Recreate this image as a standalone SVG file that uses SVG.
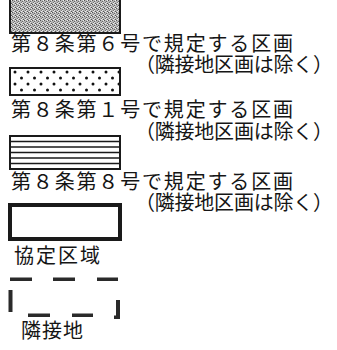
<svg xmlns="http://www.w3.org/2000/svg" width="337" height="350" viewBox="0 0 337 350">
<style>
  .t { font-family: "Noto Sans CJK JP", "Noto Sans", sans-serif; font-size: 20px; fill: #151515; }
  .frame { stroke: #1a1a1a; stroke-width: 2; }
  .dash { fill: #2a2a2a; }
</style>
<defs>
  <pattern id="stipple" width="4" height="4" patternUnits="userSpaceOnUse">
    <rect width="4" height="4" fill="#b4b4b4"/>
    <rect x="0" y="0" width="1" height="1" fill="#555"/>
    <rect x="2" y="1" width="1" height="1" fill="#666"/>
    <rect x="1" y="2" width="1" height="1" fill="#777"/>
    <rect x="3" y="3" width="1" height="1" fill="#555"/>
    <rect x="3" y="0" width="1" height="1" fill="#eee"/>
    <rect x="1" y="3" width="1" height="1" fill="#eee"/>
    <rect x="2" y="2" width="1" height="1" fill="#e4e4e4"/>
  </pattern>
  <pattern id="dots" x="10" y="69" width="13" height="12" patternUnits="userSpaceOnUse">
    <circle cx="5" cy="3" r="1.5" fill="#111"/>
    <circle cx="11.5" cy="9" r="1.5" fill="#111"/>
  </pattern>
</defs>

<g id="legend-sec8-no6">
  <rect class="frame" x="10" y="-3" width="110" height="36" fill="url(#stipple)"/>
  <text class="t" x="11" y="51" textLength="282" lengthAdjust="spacing">第８条第６号で規定する区画</text>
  <text class="t" x="135" y="72" textLength="198" lengthAdjust="spacing">（隣接地区画は除く）</text>
</g>

<g id="legend-sec8-no1">
  <rect class="frame" x="10" y="68" width="110" height="27" fill="url(#dots)"/>
  <text class="t" x="11" y="117" textLength="282" lengthAdjust="spacing">第８条第１号で規定する区画</text>
  <text class="t" x="135" y="139" textLength="198" lengthAdjust="spacing">（隣接地区画は除く）</text>
</g>

<g id="legend-sec8-no8">
  <rect class="frame" x="10" y="136" width="110" height="33" fill="#fff"/>
  <g stroke="#1a1a1a" stroke-width="1.4">
    <line x1="10" y1="141.5" x2="120" y2="141.5"/>
    <line x1="10" y1="147" x2="120" y2="147"/>
    <line x1="10" y1="152.5" x2="120" y2="152.5"/>
    <line x1="10" y1="158" x2="120" y2="158"/>
    <line x1="10" y1="163.5" x2="120" y2="163.5"/>
  </g>
  <text class="t" x="11" y="189" textLength="282" lengthAdjust="spacing">第８条第８号で規定する区画</text>
  <text class="t" x="135" y="210" textLength="198" lengthAdjust="spacing">（隣接地区画は除く）</text>
</g>

<g id="legend-agreement-area">
  <rect x="10" y="205" width="110" height="34" fill="none" stroke="#1a1a1a" stroke-width="4"/>
  <text class="t" x="14" y="263" textLength="86" lengthAdjust="spacing">協定区域</text>
</g>

<g id="legend-adjacent">
  <rect class="dash" x="10" y="277.5" width="22" height="3.5"/>
  <rect class="dash" x="53" y="277.5" width="22" height="3.5"/>
  <rect class="dash" x="97" y="277.5" width="21" height="3.5"/>
  <rect class="dash" x="8.5" y="290" width="4" height="22"/>
  <rect class="dash" x="116" y="300" width="4" height="19"/>
  <rect class="dash" x="114" y="315.5" width="5" height="3.5"/>
  <rect class="dash" x="28" y="313.5" width="22" height="3.5"/>
  <rect class="dash" x="72" y="313.5" width="21" height="3.5"/>
  <text class="t" x="21" y="338" textLength="62" lengthAdjust="spacing">隣接地</text>
</g>
</svg>
